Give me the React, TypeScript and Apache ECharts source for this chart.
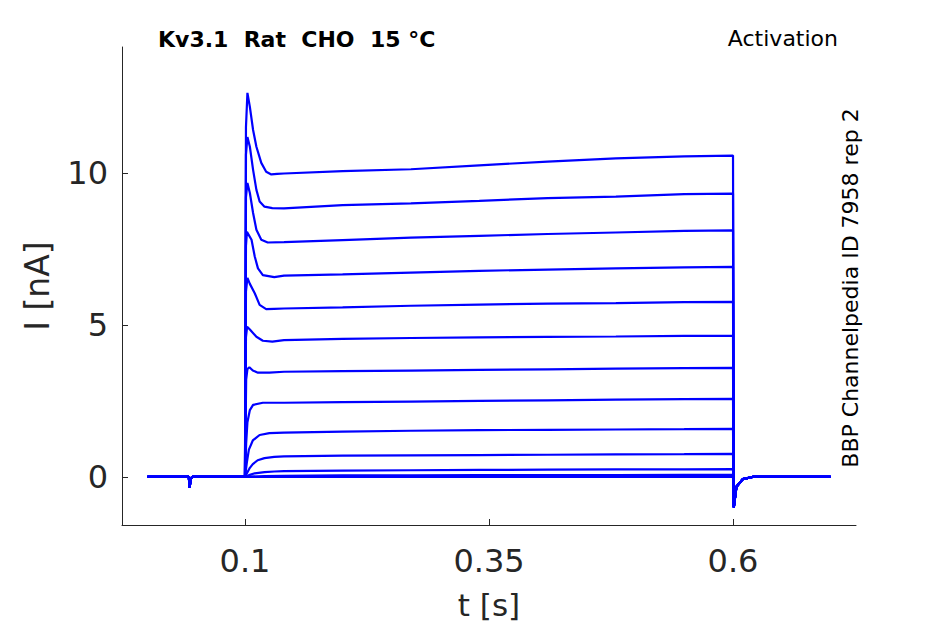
import React, { useEffect, useRef } from "react";
import * as echarts from "echarts";

// ---- data ----
// shared holding-potential baseline before the step (t in s, I in nA)
const baselinePre: number[][] = [
  [0, 0], [0.0425, 0], [0.0432, -0.36], [0.0445, -0.05], [0.046, 0], [0.1, 0],
];

// onset of each sweep (capacitive/peak transient) as [t, I]
const onset01 = [[0.101, 11.5], [0.1025, 12.63], [0.105, 12.17], [0.1083, 11.41], [0.1117, 10.86], [0.1167, 10.33], [0.1217, 10.04], [0.127, 9.95], [0.133, 9.97]];
const onset02 = [[0.101, 10.6], [0.1025, 11.18], [0.105, 10.86], [0.1083, 10.1], [0.1117, 9.44], [0.115, 9.06], [0.12, 8.89], [0.128, 8.84]];
const onset03 = [[0.101, 9.2], [0.1025, 9.67], [0.105, 9.34], [0.1083, 8.68], [0.1117, 8.13], [0.1167, 7.8], [0.1233, 7.71]];
const onset04 = [[0.101, 7.6], [0.102, 8.06], [0.1067, 7.8], [0.11, 7.25], [0.1133, 6.86], [0.1183, 6.64], [0.13, 6.57]];
const onset05 = [[0.101, 6.1], [0.1025, 6.55], [0.105, 6.35], [0.11, 6.04], [0.115, 5.66], [0.1217, 5.52], [0.13, 5.53]];
const onset06 = [[0.101, 4.6], [0.1022, 4.94], [0.105, 4.85], [0.1117, 4.61], [0.1183, 4.48], [0.128, 4.45]];
const onset07 = [[0.1012, 3.2], [0.1025, 3.55], [0.1045, 3.61], [0.108, 3.5], [0.1133, 3.43], [0.125, 3.43]];
const onset08 = [[0.1012, 1.1], [0.1025, 1.8], [0.105, 2.2], [0.1083, 2.37], [0.1183, 2.44]];
const onset09 = [[0.102, 0.5], [0.104, 0.9], [0.108, 1.2], [0.115, 1.38], [0.125, 1.44]];
const onset10 = [[0.102, 0.12], [0.105, 0.3], [0.108, 0.42], [0.113, 0.55], [0.12, 0.62], [0.13, 0.66]];
const onset11 = [[0.105, 0.07], [0.11, 0.12], [0.12, 0.16], [0.13, 0.18]];
const onset12 = [[0.12, 0.03]];
const onset13: number[][] = [];

// steady part of each sweep, sampled at these times
const steadyTimes = [0.14, 0.2, 0.27, 0.34, 0.41, 0.48, 0.55, 0.6];
const steady01 = [9.98, 10.06, 10.12, 10.25, 10.37, 10.48, 10.54, 10.57];
const steady02 = [8.83, 8.94, 9.0, 9.08, 9.17, 9.22, 9.3, 9.32];
const steady03 = [7.72, 7.79, 7.87, 7.93, 7.99, 8.04, 8.09, 8.11];
const steady04 = [6.62, 6.66, 6.72, 6.78, 6.82, 6.86, 6.89, 6.91];
const steady05 = [5.54, 5.58, 5.63, 5.67, 5.7, 5.72, 5.75, 5.76];
const steady06 = [4.5, 4.54, 4.57, 4.59, 4.61, 4.62, 4.64, 4.64];
const steady07 = [3.46, 3.48, 3.5, 3.52, 3.54, 3.56, 3.58, 3.59];
const steady08 = [2.44, 2.46, 2.48, 2.5, 2.52, 2.54, 2.56, 2.57];
const steady09 = [1.46, 1.49, 1.52, 1.54, 1.55, 1.56, 1.57, 1.58];
const steady10 = [0.68, 0.7, 0.71, 0.72, 0.73, 0.74, 0.75, 0.76];
const steady11 = [0.19, 0.21, 0.22, 0.23, 0.24, 0.25, 0.25, 0.26];
const steady12 = [0.04, 0.05, 0.05, 0.06, 0.06, 0.06, 0.07, 0.07];
const steady13 = [0, 0, 0, 0, 0, 0, 0, 0];

// shared tail after the step ends
const tailPost: number[][] = [
  [0.6008, -1.0], [0.6035, -0.32], [0.61, -0.07], [0.62, 0], [0.7, 0],
];

const onsets = [onset01, onset02, onset03, onset04, onset05, onset06, onset07, onset08, onset09, onset10, onset11, onset12, onset13];
const steadies = [steady01, steady02, steady03, steady04, steady05, steady06, steady07, steady08, steady09, steady10, steady11, steady12, steady13];

const xTicks = [0.1, 0.35, 0.6];
const yTicks = [0, 5, 10];

const FONT = '"DejaVu Sans", sans-serif';
const AXIS = "#262626";

export default function App() {
  const ref = useRef<HTMLDivElement>(null);
  useEffect(() => {
    if (!ref.current) return;
    const chart = echarts.init(ref.current, null, { renderer: "svg" });
    const series = onsets.map((on, i) => {
      const data = [
        ...baselinePre,
        ...on,
        ...steadyTimes.map((t, k) => [t, steadies[i][k]]),
        ...tailPost,
      ];
      return {
        type: "line",
        data,
        showSymbol: false,
        symbol: "none",
        lineStyle: { color: "#0000ff", width: 2.2 },
        itemStyle: { color: "#0000ff" },
        z: 2 + (onsets.length - i),
      };
    });
    chart.setOption({
      animation: false,
      grid: { left: 122, right: 89, top: 47, bottom: 99, outerBoundsMode: "none", containLabel: false },
      xAxis: {
        type: "value",
        min: -0.026,
        max: 0.726,
        name: "t [s]",
        nameLocation: "middle",
        nameGap: 65,
        nameTextStyle: { fontSize: 31, lineHeight: 29, color: AXIS, fontFamily: FONT },
        axisLine: { show: true, onZero: false, lineStyle: { color: AXIS, width: 1 } },
        axisTick: { show: true, inside: true, length: 6, customValues: xTicks, lineStyle: { color: AXIS } },
        axisLabel: { customValues: xTicks, fontSize: 32, color: AXIS, fontFamily: FONT, margin: 20 },
        splitLine: { show: false },
      },
      yAxis: {
        type: "value",
        min: -1.58,
        max: 14.14,
        name: "I [nA]",
        nameLocation: "middle",
        nameRotate: 90,
        nameGap: 68,
        nameTextStyle: { fontSize: 33, color: AXIS, fontFamily: FONT },
        axisLine: { show: true, onZero: false, lineStyle: { color: AXIS, width: 1 } },
        axisTick: { show: true, inside: true, length: 6, customValues: yTicks, lineStyle: { color: AXIS } },
        axisLabel: { customValues: yTicks, fontSize: 32, color: AXIS, fontFamily: FONT, margin: 14 },
        splitLine: { show: false },
      },
      graphic: [
        {
          type: "text",
          style: {
            x: 158, y: 39, text: "Kv3.1  Rat  CHO  15 °C",
            font: `bold 22px ${FONT}`, fill: "#000", textAlign: "left", textVerticalAlign: "middle",
          },
        },
        {
          type: "text",
          style: {
            x: 838, y: 38.5, text: "Activation",
            font: `22px ${FONT}`, fill: "#000", textAlign: "right", textVerticalAlign: "middle",
          },
        },
        {
          type: "text",
          x: 850, y: 288, rotation: Math.PI / 2,
          style: {
            x: 0, y: 0, text: "BBP Channelpedia ID 7958 rep 2",
            font: `22px ${FONT}`, fill: "#000", textAlign: "center", textVerticalAlign: "middle",
          },
        },
      ],
      series,
    });
    return () => chart.dispose();
  }, []);
  return (
    <div
      ref={ref}
      style={{ position: "fixed", left: 0, top: 0, width: 945, height: 624, background: "#fff" }}
    />
  );
}
